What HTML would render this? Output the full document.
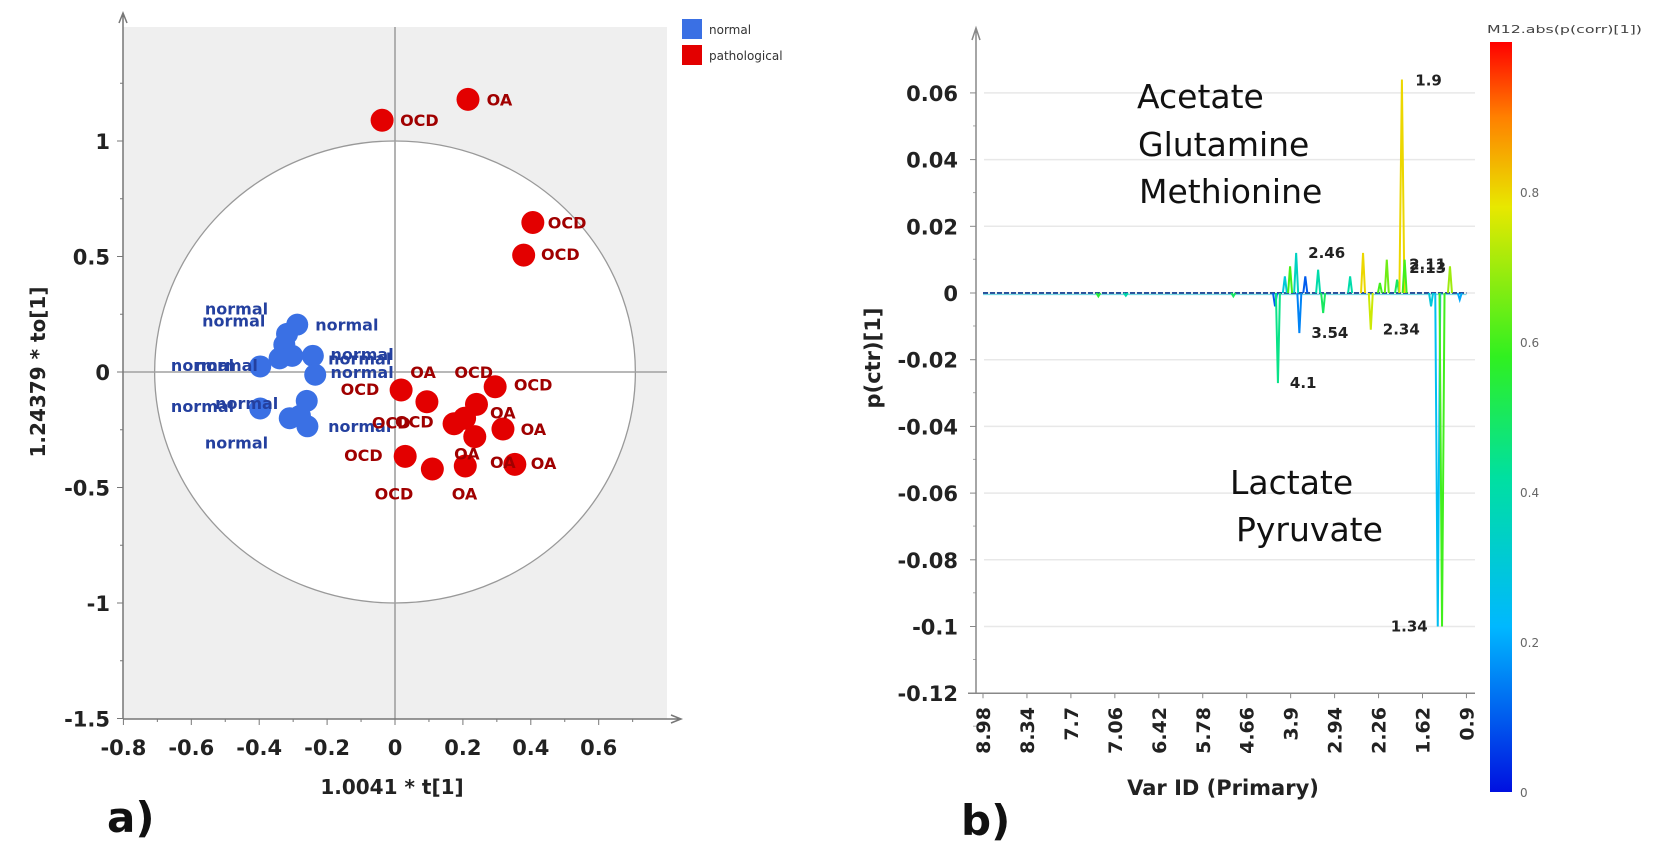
<!DOCTYPE html>
<html><head><meta charset="utf-8"><style>
html,body{margin:0;padding:0;background:#fff;width:1654px;height:851px;overflow:hidden}
svg text{font-family:"DejaVu Sans","Liberation Sans",sans-serif}
</style></head><body>
<svg id="fig" width="1654" height="851" viewBox="0 0 1654 851" xmlns="http://www.w3.org/2000/svg">
<defs>
<linearGradient id="jet" x1="0" y1="1" x2="0" y2="0">
<stop offset="0" stop-color="#0010e0"/><stop offset="0.22" stop-color="#00b8ff"/>
<stop offset="0.42" stop-color="#00e0a0"/><stop offset="0.58" stop-color="#30f020"/>
<stop offset="0.78" stop-color="#e8e800"/><stop offset="0.9" stop-color="#ff8000"/>
<stop offset="1" stop-color="#ff0000"/></linearGradient>
</defs>
<g id="left"></g>
<g id="right"></g>
</svg>
<script>
// ---------- Left chart data ----------
const redT  = [-0.038,0.215,0.406,0.379,0.295,0.018,0.094,0.24,0.205,0.174,0.235,0.318,0.03,0.11,0.207,0.353];
const redTo = [1.09,1.18,0.647,0.506,-0.064,-0.078,-0.129,-0.14,-0.2,-0.224,-0.28,-0.247,-0.365,-0.42,-0.407,-0.40];
const blueT  = [-0.288,-0.318,-0.326,-0.34,-0.303,-0.242,-0.235,-0.397,-0.397,-0.26,-0.31,-0.258,-0.28];
const blueTo = [0.205,0.165,0.118,0.059,0.07,0.07,-0.012,0.024,-0.158,-0.125,-0.2,-0.235,-0.19];
const redLabT  = [0.015,0.27,0.45,0.43,0.045,0.175,0.35,-0.16,0.28,-0.068,0.0,0.37,-0.15,0.174,0.28,0.40,-0.06,0.167];
const redLabTo = [1.09,1.18,0.647,0.51,0.0,0.0,-0.054,-0.073,-0.176,-0.219,-0.214,-0.247,-0.36,-0.353,-0.39,-0.395,-0.525,-0.525];
const redLabTxt = ["OCD","OA","OCD","OCD","OA","OCD","OCD","OCD","OA","OCD","OCD","OA","OCD","OA","OA","OA","OCD","OA"];
const blueLabT  = [-0.56,-0.568,-0.235,-0.66,-0.59,-0.19,-0.197,-0.19,-0.66,-0.53,-0.197,-0.56];
const blueLabTo = [0.275,0.224,0.205,0.03,0.03,0.078,0.059,0.0,-0.148,-0.134,-0.233,-0.306];
const xTicksL = [-0.8,-0.6,-0.4,-0.2,0,0.2,0.4,0.6];
const yTicksL = [1,0.5,0,-0.5,-1,-1.5];

// ---------- Right chart data ----------
const ppmTicks = ["8.98","8.34","7.7","7.06","6.42","5.78","4.66","3.9","2.94","2.26","1.62","0.9"];
const yTicksR = [0.06,0.04,0.02,0,-0.02,-0.04,-0.06,-0.08,-0.1,-0.12];
const peakPpm  = [4.17,4.12,4.0,3.91,3.78,3.71,3.58,3.3,3.19,2.70,2.50,2.38,2.24,2.14,1.99,1.92,1.88,1.48,1.37,1.30,1.17,1.01,7.3,6.9,5.0];
const peakVal  = [-0.004,-0.027,0.005,0.008,0.012,-0.012,0.005,0.007,-0.006,0.005,0.012,-0.011,0.003,0.01,0.004,0.064,0.01,-0.004,-0.1,-0.1,0.008,-0.002,-0.001,-0.0008,-0.001];
const peakCorr = [0.1,0.45,0.3,0.6,0.35,0.15,0.1,0.4,0.5,0.4,0.8,0.75,0.6,0.65,0.5,0.8,0.6,0.3,0.25,0.6,0.7,0.2,0.55,0.4,0.5];
const peakLabTxt = ["1.9","2.46","3.54","4.1","2.34","2.11","2.13","1.34"];
const peakLabPpm = [1.9,3.78,3.71,4.12,2.38,1.99,1.99,1.37];
const peakLabVal = [0.064,0.012,-0.012,-0.027,-0.011,0.0085,0.0075,-0.1];
const cbTicks = [0,0.2,0.4,0.6,0.8];

const NS="http://www.w3.org/2000/svg";
function mk(parent,tag,attrs,text){const e=document.createElementNS(NS,tag);for(const k in attrs)e.setAttribute(k,attrs[k]);if(text!==undefined)e.textContent=text;parent.appendChild(e);return e;}

// ===== Left =====
const L=document.getElementById('left');
const lx=v=>395+v*339.5, ly=v=>372-v*231;
const PL=123, PR=667, PT=27, PB=719;
let bg=mk(L,'rect',{x:PL,y:PT,width:PR-PL,height:PB-PT,fill:'#efefef'});

let ci=mk(L,'ellipse',{cx:lx(0),cy:ly(0),rx:0.708*339.5,ry:231,fill:'#fff',stroke:'#999','stroke-width':1.3});

let zv=mk(L,'line',{x1:lx(0),x2:lx(0),y1:PT,y2:PB,stroke:'#a0a0a0','stroke-width':1.6});

let zh=mk(L,'line',{x1:PL,x2:PR,y1:ly(0),y2:ly(0),stroke:'#a0a0a0','stroke-width':1.6});

let ya=mk(L,'path',{d:`M${PL} ${PB}V${PT-12}M${PL-4} ${PT-4}L${PL} ${PT-14}L${PL+4} ${PT-4}`,stroke:'#777','stroke-width':1.5,fill:'none'});

let xa=mk(L,'path',{d:`M${PL} ${PB}H${PR+12}M${PR+4} ${PB-4}L${PR+14} ${PB}L${PR+4} ${PB+4}`,stroke:'#777','stroke-width':1.5,fill:'none'});

for(let v=-0.8;v<=0.71;v+=0.1){mk(L,'line',{x1:lx(v),x2:lx(v),y1:PB,y2:PB+(Math.abs(Math.round(v*10))%2?3:6),stroke:'#777'});}
for(let v=-1.5;v<=1.3;v+=0.25){mk(L,'line',{x1:PL-(Math.round(v*4)%2?3:6),x2:PL,y1:ly(v),y2:ly(v),stroke:'#777'});}
xTicksL.forEach(v=>{const t=mk(L,'text',{x:lx(v),y:755,'text-anchor':'middle','font-size':21,'font-weight':'bold',fill:'#222'},String(v));
});
yTicksL.forEach(v=>{const t=mk(L,'text',{x:110,y:ly(v)+8,'text-anchor':'end','font-size':21,'font-weight':'bold',fill:'#222'},String(v));
});
let xt=mk(L,'text',{x:392,y:794,'text-anchor':'middle','font-size':20,'font-weight':'bold',fill:'#222'},'1.0041 * t[1]');

let yt=mk(L,'text',{x:0,y:0,transform:'translate(45,372) rotate(-90)','text-anchor':'middle','font-size':20,'font-weight':'bold',fill:'#222'},'1.24379 * to[1]');

blueT.forEach((t,i)=>{const c=mk(L,'circle',{cx:lx(t),cy:ly(blueTo[i]),r:11,fill:'#3a70e4'});
});
redT.forEach((t,i)=>{const c=mk(L,'circle',{cx:lx(t),cy:ly(redTo[i]),r:11.5,fill:'#e30000'});
});
blueLabT.forEach((t,i)=>{const e=mk(L,'text',{x:lx(t),y:ly(blueLabTo[i])+6,'font-size':16,'font-weight':'bold',fill:'#24409f'},'normal');
});
redLabT.forEach((t,i)=>{const e=mk(L,'text',{x:lx(t),y:ly(redLabTo[i])+6,'font-size':16,'font-weight':'bold',fill:'#a00000'},redLabTxt[i]);
});
let lg1=mk(L,'rect',{x:682,y:19,width:20,height:20,fill:'#3a70e4'});

let lt1=mk(L,'text',{x:709,y:34,'font-size':12,fill:'#333'},'normal');

let lg2=mk(L,'rect',{x:682,y:45,width:20,height:20,fill:'#e30000'});

let lt2=mk(L,'text',{x:709,y:60,'font-size':12,fill:'#333'},'pathological');

let pa=mk(L,'text',{x:107,y:832,'font-size':42,'font-weight':'bold',fill:'#111'},'a)');


// ===== Right =====
const R=document.getElementById('right');
const RX0=976, RX1=1475;
const tickPpm=ppmTicks.map(Number);
function rx(p){ // piecewise mapping ppm -> pixel via tick labels
  for(let i=0;i<tickPpm.length-1;i++){const a=tickPpm[i],b=tickPpm[i+1];
    if(p<=a&&p>=b){return 983+(i+(a-p)/(a-b))*43.95;}}
  return p>tickPpm[0]?983:983+11*43.95;}
const ry=v=>293-v*3335;
function jet(c){const st=[[0,[0,16,224]],[0.22,[0,184,255]],[0.42,[0,224,160]],[0.58,[48,240,32]],[0.78,[232,232,0]],[0.9,[255,128,0]],[1,[255,0,0]]];
  for(let i=0;i<st.length-1;i++){if(c<=st[i+1][0]){const f=(c-st[i][0])/(st[i+1][0]-st[i][0]);const a=st[i][1],b=st[i+1][1];
    return `rgb(${a.map((x,k)=>Math.round(x+(b[k]-x)*f)).join(',')})`;}}return 'rgb(255,0,0)';}
yTicksR.forEach(v=>{const g=mk(R,'line',{x1:RX0+8,x2:RX1,y1:ry(v),y2:ry(v),stroke:'#e8e8e8','stroke-width':1.5});

const t=mk(R,'text',{x:958,y:ry(v)+8,'text-anchor':'end','font-size':21,'font-weight':'bold',fill:'#222'},v===0?'0':String(v));

mk(R,'line',{x1:RX0-6,x2:RX0,y1:ry(v),y2:ry(v),stroke:'#888'});mk(R,'line',{x1:RX0-3,x2:RX0,y1:ry(v)+33,y2:ry(v)+33,stroke:'#aaa'});});
let ray=mk(R,'path',{d:`M${RX0} ${ry(-0.12)}V28M${RX0-4} 40L${RX0} 28L${RX0+4} 40`,stroke:'#888','stroke-width':1.5,fill:'none'});

let rxa=mk(R,'line',{x1:RX0-8,x2:RX1,y1:ry(-0.12),y2:ry(-0.12),stroke:'#888','stroke-width':1.5});

ppmTicks.forEach((s,i)=>{const x=rx(tickPpm[i]);mk(R,'line',{x1:x,x2:x,y1:ry(-0.12),y2:ry(-0.12)+5,stroke:'#888'});
const t=mk(R,'text',{x:0,y:0,transform:`translate(${x+7},707) rotate(-90)`,'text-anchor':'end','font-size':19,'font-weight':'bold',fill:'#222'},s);
});
// baseline
let bl=mk(R,'line',{x1:rx(8.98),x2:rx(0.9),y1:ry(0),y2:ry(0),stroke:'#2a4f9a','stroke-width':2,'stroke-dasharray':'5 2'});

let bl2=mk(R,'line',{x1:rx(8.98),x2:rx(0.9),y1:ry(0)+1.5,y2:ry(0)+1.5,stroke:'#40c8d8','stroke-width':1.2,opacity:0.7});

peakPpm.forEach((p,i)=>{const x=rx(p),w=Math.abs(peakVal[i])>0.05?2.5:2;
const e=mk(R,'polyline',{points:`${x-w},${ry(0)} ${x},${ry(peakVal[i])} ${x+w},${ry(0)}`,fill:'none',stroke:jet(peakCorr[i]),'stroke-width':2});
});
peakLabTxt.forEach((s,i)=>{const x=rx(peakLabPpm[i]),y=ry(peakLabVal[i]);const left=s==='1.34';
const t=mk(R,'text',{x:left?x-10:x+12,y:y+(peakLabVal[i]>0.03?6:5),'text-anchor':left?'end':'start','font-size':15,'font-weight':'bold',fill:'#222'},s);
});
[['Acetate',1137,108],['Glutamine',1138,156],['Methionine',1139,203],['Lactate',1230,494],['Pyruvate',1236,541]].forEach(a=>{
const t=mk(R,'text',{x:a[1],y:a[2],'font-size':33,fill:'#111','font-family':'"Liberation Sans",sans-serif'},a[0]);
});
let rxt=mk(R,'text',{x:1223,y:795,'text-anchor':'middle','font-size':21,'font-weight':'bold',fill:'#222'},'Var ID (Primary)');

let ryt=mk(R,'text',{x:0,y:0,transform:'translate(880,358) rotate(-90)','text-anchor':'middle','font-size':21,'font-weight':'bold',fill:'#222'},'p(ctr)[1]');

// colorbar
const cy=v=>792-v*750;
let cb=mk(R,'rect',{x:1490,y:cy(1),width:22,height:750,fill:'url(#jet)'});

cbTicks.forEach(v=>{const t=mk(R,'text',{x:1520,y:cy(v)+5,'font-size':12,fill:'#666'},v===0?'0':String(v));
});
let cbt=mk(R,'text',{x:1487,y:33,'font-size':11,fill:'#444',textLength:155,lengthAdjust:'spacingAndGlyphs'},'M12.abs(p(corr)[1])');

let pb=mk(R,'text',{x:961,y:835,'font-size':42,'font-weight':'bold',fill:'#111'},'b)');

</script>
</body></html>
